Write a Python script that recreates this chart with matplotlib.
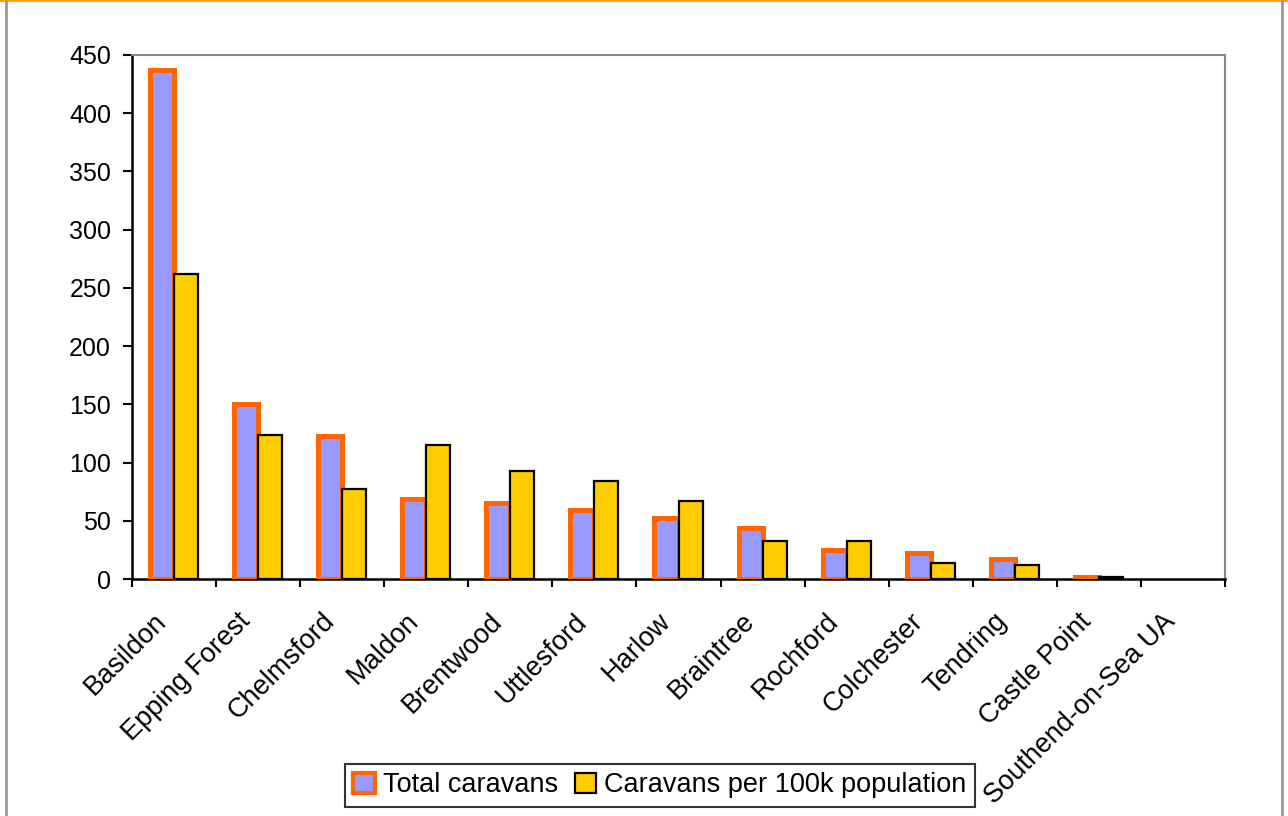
import numpy as np
import matplotlib.pyplot as plt
from matplotlib.lines import Line2D
from matplotlib.patches import Patch

# Caravan counts by district
districts = ['Basildon', 'Epping Forest', 'Chelmsford', 'Maldon', 'Brentwood',
             'Uttlesford', 'Harlow', 'Braintree', 'Rochford', 'Colchester',
             'Tendring', 'Castle Point', 'Southend-on-Sea UA']
total_caravans = [437, 150, 123, 69, 65, 59, 52, 44, 25, 22, 17, 2, 0]
per_100k = [262, 124, 77, 115, 93, 84, 67, 33, 33, 14, 12, 1.5, 0]

plt.rcParams['font.family'] = ['Liberation Sans', 'DejaVu Sans']

fig = plt.figure(figsize=(12.88, 8.16), dpi=100)
ax = fig.add_axes([0.1025, 0.2904, 0.8486, 0.6422])

x = np.arange(len(districts))
w = 0.2857
# zero values get no bar at all (like Excel)
tot = np.array(total_caravans, dtype=float)
per = np.array(per_100k, dtype=float)
tot[tot == 0] = np.nan
per[per == 0] = np.nan
ax.bar(x - w / 2, tot, w, color='#9999FF', edgecolor='#FF6600',
       linewidth=3.6, label='Total caravans', zorder=3)
ax.bar(x + w / 2, per, w, color='#FFCC00', edgecolor='black',
       linewidth=1.6, label='Caravans per 100k population', zorder=3)

ax.set_xlim(-0.5, len(districts) - 0.5)
ax.set_ylim(0, 450)
ax.set_yticks(range(0, 451, 50))
ax.tick_params(axis='y', labelsize=18, length=6.5, width=1.5, direction='out', pad=8.6)

# ticks between categories, labels at centres
ax.set_xticks(np.arange(-0.5, len(districts), 1))
ax.set_xticklabels([])
ax.tick_params(axis='x', length=6, width=1.5, direction='out')
for i, name in enumerate(districts):
    ax.annotate(name, xy=(i, 0), xycoords=('data', 'axes fraction'),
                xytext=(-15, -21), textcoords='offset points',
                rotation=45, ha='right', va='top', rotation_mode='anchor',
                fontsize=19.5)

for s in ['top', 'right']:
    ax.spines[s].set_color('#888888')
    ax.spines[s].set_linewidth(1.5)
for s in ['left', 'bottom']:
    ax.spines[s].set_color('black')
    ax.spines[s].set_linewidth(1.8)

handles = [Patch(facecolor='#9999FF', edgecolor='#FF6600', linewidth=3),
           Patch(facecolor='#FFCC00', edgecolor='black', linewidth=1.6)]
leg = fig.legend(handles, ['Total caravans', 'Caravans per 100k population'],
                 loc='center', bbox_to_anchor=(0.5124, 0.0374), ncol=2,
                 fontsize=19.5, frameon=True, fancybox=False, edgecolor='black',
                 handlelength=0.8, handleheight=0.8, handletextpad=0.3,
                 columnspacing=0.6, borderpad=0.3, borderaxespad=0)
leg.get_frame().set_linewidth(1.5)

# outer chart border
fig.add_artist(Line2D([0, 1], [0.9995, 0.9995], color='#FF9900', lw=2))
fig.add_artist(Line2D([0.005, 0.005], [0, 0.999], color='#999999', lw=2))
fig.add_artist(Line2D([0.9955, 0.9955], [0, 0.999], color='#999999', lw=2))

fig.savefig('out.png', dpi=100)
